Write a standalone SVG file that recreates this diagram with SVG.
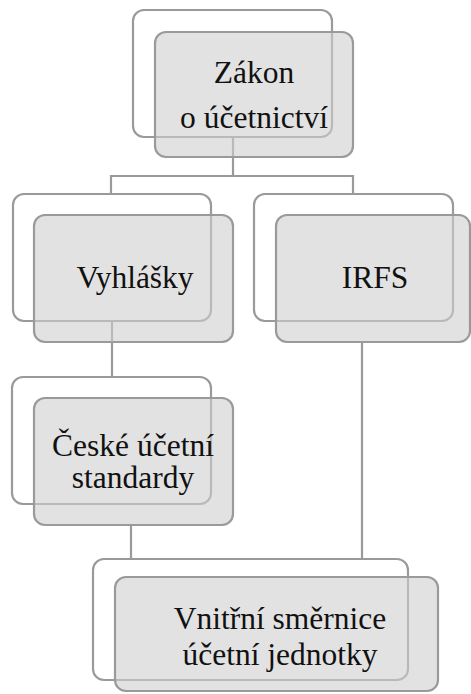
<svg xmlns="http://www.w3.org/2000/svg" width="471" height="694" viewBox="0 0 471 694">
<style>
.back{fill:#ffffff;stroke:#9a9a9a;stroke-width:2.2}
.front{fill:#cfcfcf;fill-opacity:0.6;stroke:#9a9a9a;stroke-width:2.2}
.conn{fill:none;stroke:#9a9a9a;stroke-width:2.2}
text{font-family:"Liberation Serif","Times New Roman",serif;font-size:31.5px;fill:#111;text-anchor:middle}
</style>
<rect width="471" height="694" fill="#ffffff"/>
<g id="connectors">
<path class="conn" d="M233,137 V176 M111,193 V176 H353 V193"/>
<path class="conn" d="M112,321 V377"/>
<path class="conn" d="M131,525 V559"/>
<path class="conn" d="M362,342 V559"/>
</g>
<g id="zakon">
<rect class="back" x="133" y="10" width="199" height="127" rx="11"/>
<rect class="front" x="155" y="32" width="198" height="125" rx="11"/>
<text x="254" y="83">Zákon</text>
<text x="254" y="128">o účetnictví</text>
</g>
<g id="vyhlasky">
<rect class="back" x="13" y="194" width="198" height="127" rx="11"/>
<rect class="front" x="34" y="215" width="199" height="127" rx="11"/>
<text x="135" y="288">Vyhlášky</text>
</g>
<g id="irfs">
<rect class="back" x="254" y="194" width="199" height="127" rx="11"/>
<rect class="front" x="276" y="215" width="194" height="127" rx="11"/>
<text x="375" y="288">IRFS</text>
</g>
<g id="ceske">
<rect class="back" x="12" y="377" width="199" height="127" rx="11"/>
<rect class="front" x="34" y="398" width="199" height="127" rx="11"/>
<text x="133" y="456">České účetní</text>
<text x="133" y="488">standardy</text>
</g>
<g id="vnitrni">
<rect class="back" x="93" y="559" width="315" height="121" rx="11"/>
<rect class="front" x="115" y="577" width="323" height="114" rx="11"/>
<text x="280" y="629">Vnitřní směrnice</text>
<text x="280" y="665">účetní jednotky</text>
</g>
</svg>
